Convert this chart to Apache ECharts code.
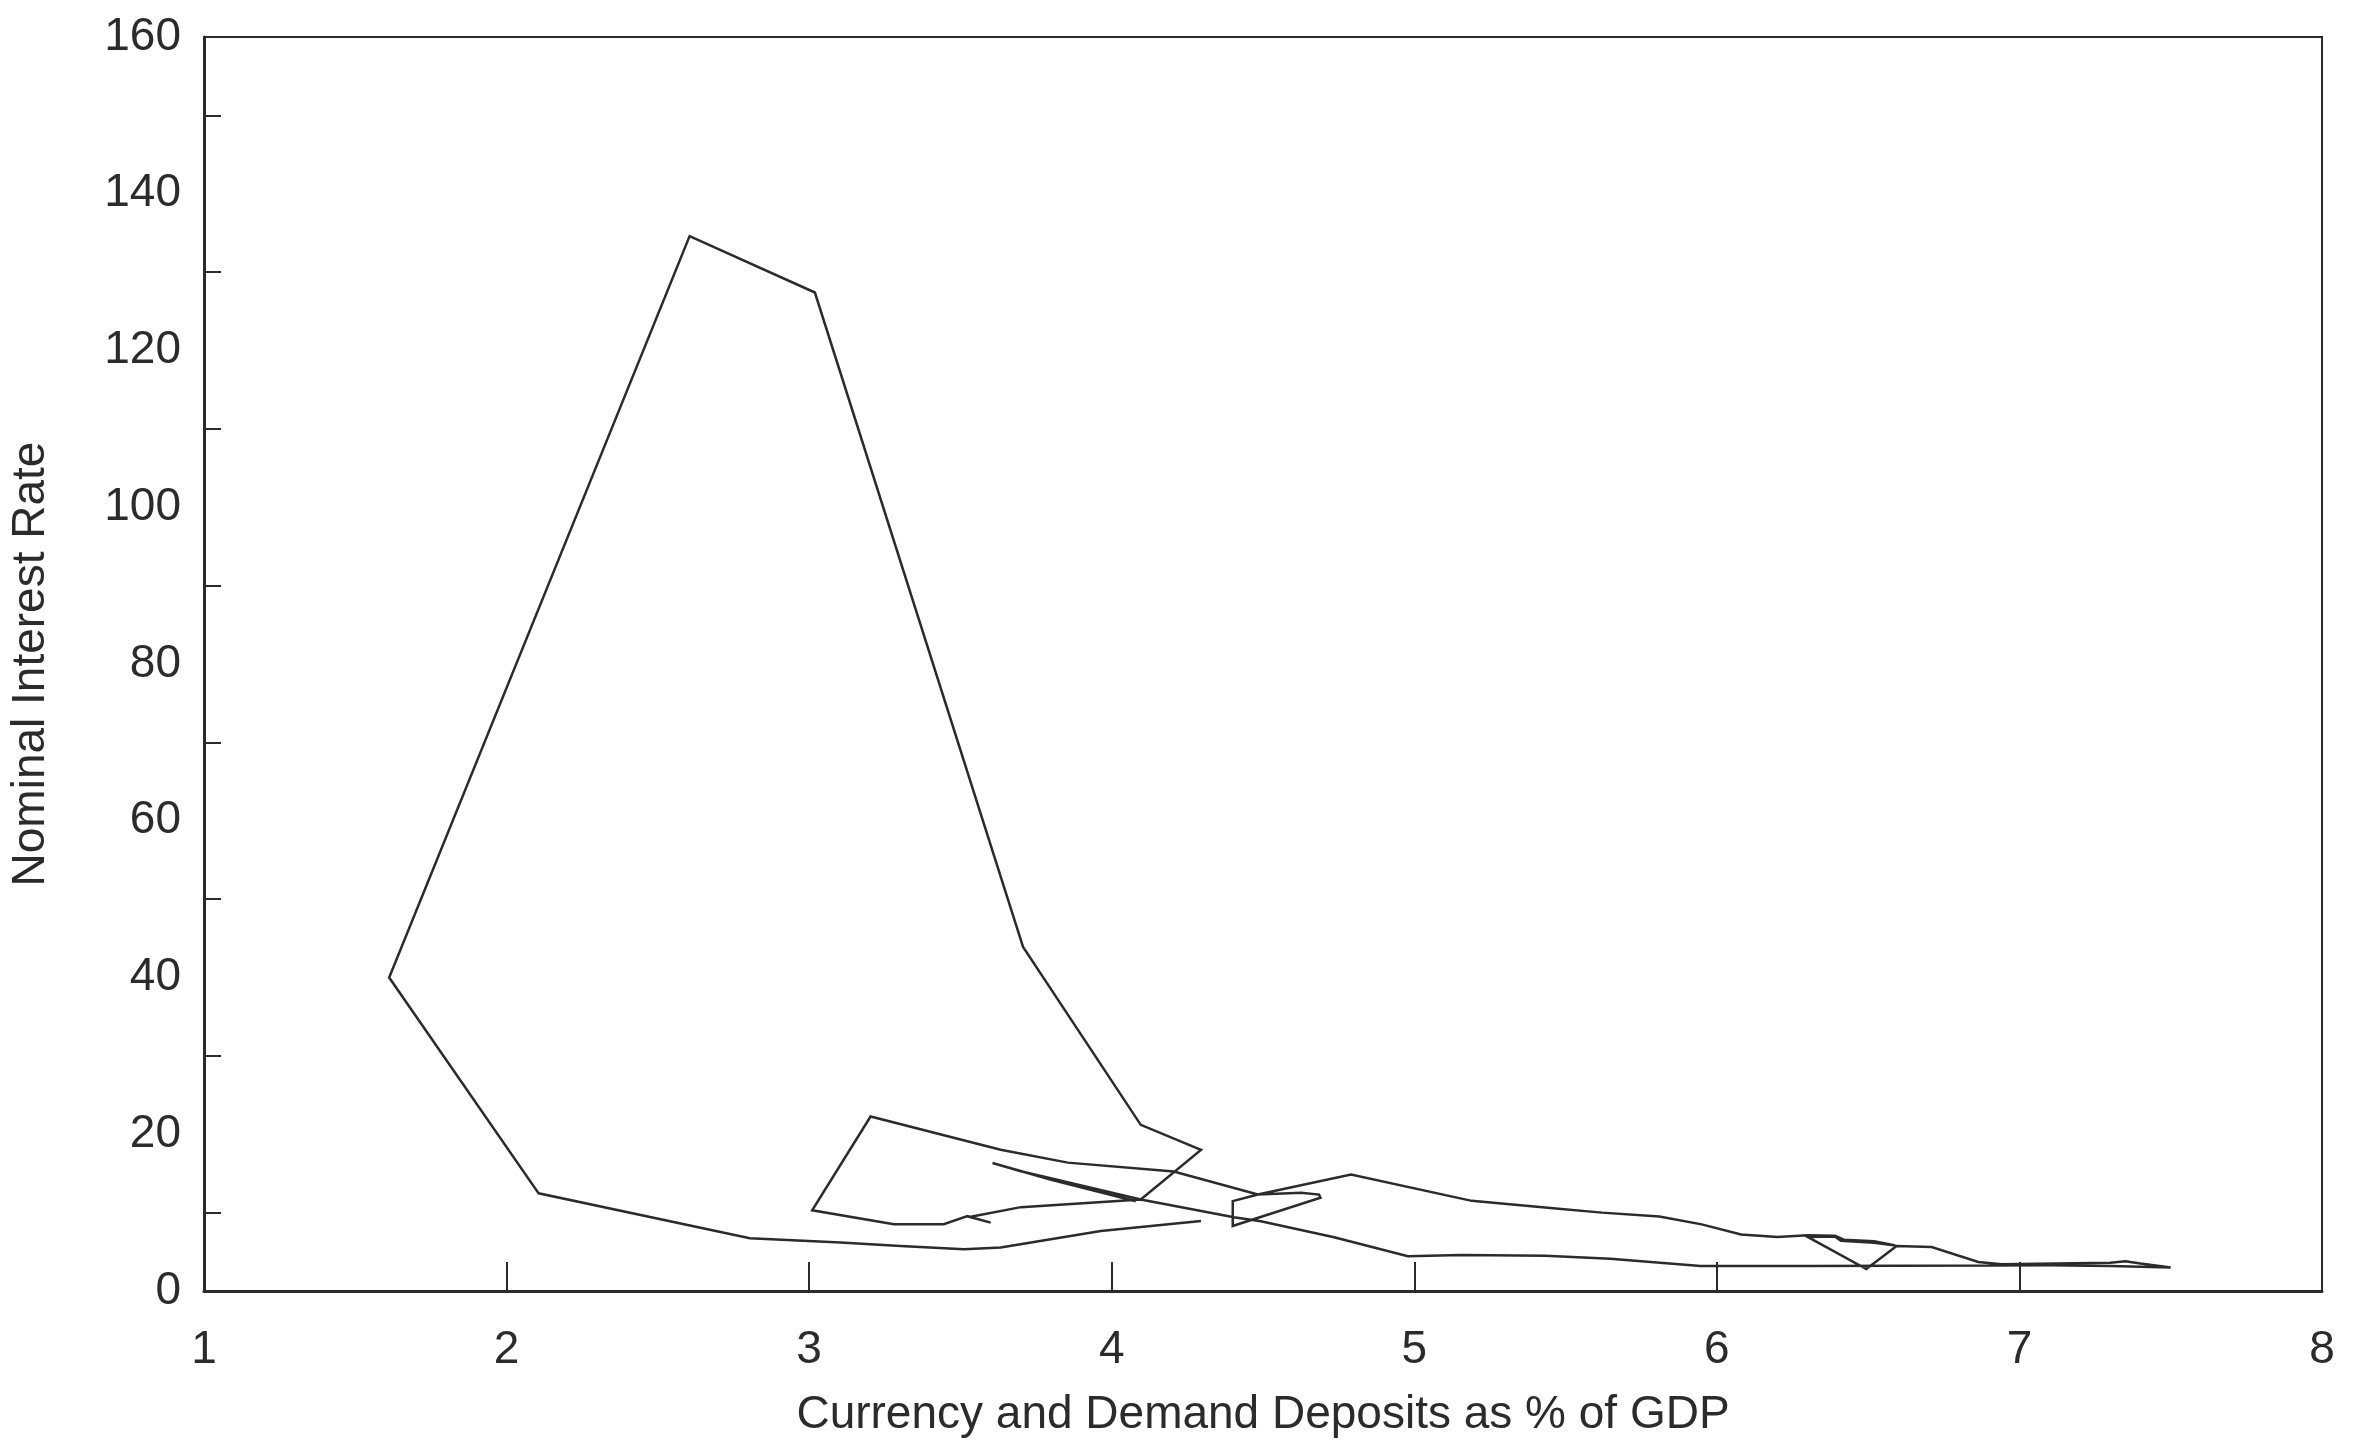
<!DOCTYPE html>
<html>
<head>
<meta charset="utf-8">
<script src="https://cdn.jsdelivr.net/npm/echarts@6/dist/echarts.min.js"></script>
<style>
  html, body { margin: 0; padding: 0; background: #ffffff; }
  #chart { width: 2365px; height: 1443px; }
</style>
</head>
<body>
<div id="chart"></div>
<script>
// Path of money holdings against the nominal interest rate, one point per observation.
// Currency and demand deposits, % of GDP
const moneyShare = [
  4.08, 3.80, 3.606, 3.70, 4.096, 4.404, 4.493, 4.735, 4.979, 5.155,
  5.433, 5.648, 5.946, 6.30, 6.90, 7.10, 7.30, 7.50, 7.40, 7.35,
  7.30, 7.00, 6.94, 6.864, 6.71, 6.594, 6.494, 6.30, 6.39, 6.41,
  6.52, 6.59, 6.52, 6.42, 6.39, 6.30, 6.20, 6.08, 5.95, 5.81,
  5.62, 5.45, 5.19, 4.791, 4.483, 4.40, 4.40, 4.42, 4.69, 4.685,
  4.626, 4.483, 4.205, 3.855, 3.633, 3.203, 3.010, 3.280, 3.445, 3.523,
  3.600, 3.530, 3.700, 4.096, 4.295, 4.096, 3.707, 3.019, 2.605, 1.612,
  2.106, 2.804, 3.104, 3.302, 3.512, 3.633, 3.964, 4.295
];
// Nominal interest rate, %
const interestRate = [
  11.45, 14.2, 16.34, 15.28, 11.68, 9.40, 8.89, 6.86, 4.44, 4.6,
  4.5, 4.1, 3.2, 3.2, 3.25, 3.3, 3.2, 3.0, 3.5, 3.8,
  3.6, 3.45, 3.4, 3.7, 5.6, 5.75, 2.8, 6.9, 6.95, 6.4,
  6.15, 5.8, 6.35, 6.55, 7.05, 7.1, 6.9, 7.2, 8.5, 9.5,
  10.0, 10.6, 11.5, 14.86, 12.32, 11.47, 8.29, 8.55, 11.9, 12.3,
  12.53, 12.32, 15.24, 16.38, 18.03, 22.26, 10.29, 8.51, 8.51, 9.56,
  8.72, 9.45, 10.7, 11.68, 18.0, 21.2, 43.9, 127.4, 134.6, 40.0,
  12.46, 6.73, 6.18, 5.75, 5.33, 5.55, 7.66, 8.93
];
// Axis tick values
const xTicks = [1, 2, 3, 4, 5, 6, 7, 8];
const yTicks = [0, 20, 40, 60, 80, 100, 120, 140, 160];

const ink = '#2b2b2b';
const font = 'Liberation Sans, Arial, Helvetica, sans-serif';

const chart = echarts.init(document.getElementById('chart'), null, { renderer: 'canvas' });

chart.setOption({
  animation: false,
  backgroundColor: '#ffffff',
  grid: {
    left: 204, top: 37, right: 43, bottom: 145,
    show: true, borderColor: ink, borderWidth: 2, backgroundColor: 'transparent'
  },
  xAxis: {
    type: 'value',
    min: xTicks[0],
    max: xTicks[xTicks.length - 1],
    interval: xTicks[1] - xTicks[0],
    name: 'Currency and Demand Deposits as % of GDP',
    nameLocation: 'middle',
    nameGap: 101,
    nameTextStyle: { fontFamily: font, fontSize: 46, color: ink },
    axisLine: { show: true, lineStyle: { color: ink, width: 3 } },
    axisTick: { show: true, inside: true, length: 29, lineStyle: { color: ink, width: 2 } },
    axisLabel: { margin: 36, fontFamily: font, fontSize: 46, color: ink },
    splitLine: { show: false }
  },
  yAxis: {
    type: 'value',
    min: yTicks[0],
    max: yTicks[yTicks.length - 1],
    interval: yTicks[1] - yTicks[0],
    name: 'Nominal Interest Rate',
    nameLocation: 'middle',
    nameGap: 150,
    nameTextStyle: { fontFamily: font, fontSize: 46, color: ink },
    axisLine: { show: true, lineStyle: { color: ink, width: 3 } },
    axisTick: { show: true, inside: true, length: 0, lineStyle: { color: ink, width: 0 } },
    minorTick: { show: true, splitNumber: 2, length: 17, lineStyle: { color: ink, width: 2 } },
    axisLabel: { margin: 23, fontFamily: font, fontSize: 46, color: ink },
    splitLine: { show: false },
    minorSplitLine: { show: false }
  },
  series: [{
    type: 'line',
    data: moneyShare.map((x, i) => [x, interestRate[i]]),
    showSymbol: false,
    symbol: 'none',
    smooth: false,
    lineStyle: { color: ink, width: 2.5, join: 'miter' },
    z: 3
  }]
});
</script>
</body>
</html>
